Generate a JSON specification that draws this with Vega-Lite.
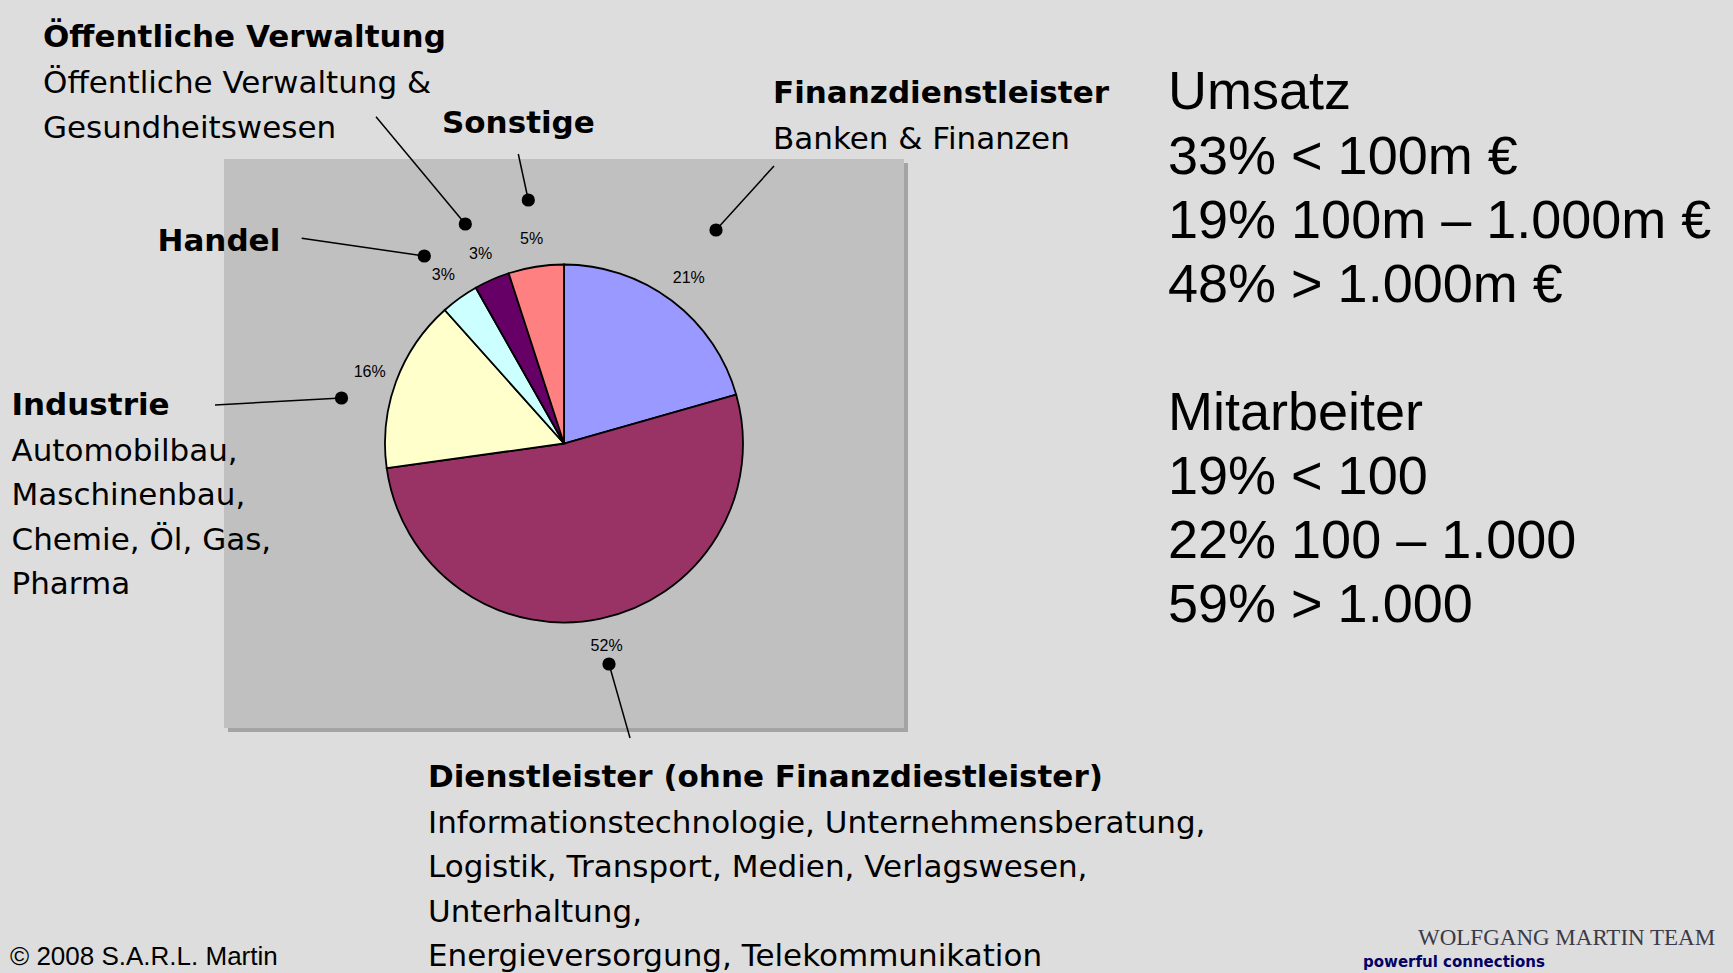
{
  "$schema": "https://vega.github.io/schema/vega-lite/v6.json",
  "width": 680,
  "height": 569,
  "autosize": {"type": "none"},
  "padding": {"left": 224, "top": 159, "right": 829, "bottom": 245},
  "background": "#DDDDDD",
  "config": {"view": {"fill": null, "stroke": null}},
  "params": [
    {
      "name": "L",
      "value": {
        "fin": {"dx": 492, "dy": 71, "ex": 550, "ey": 7, "tx": 549, "ty": -55.7, "sy": -9.7},
        "dienst": {"dx": 385, "dy": 505, "ex": 406, "ey": 579, "tx": 204, "ty": 627.7, "sy": 673.7},
        "ind": {"dx": 117.5, "dy": 239, "ex": -9, "ey": 246, "tx": -212.5, "ty": 256, "sy": 301.7},
        "han": {"dx": 200.3, "dy": 97, "ex": 77.7, "ey": 79.3, "tx": -66.5, "ty": 91.7, "sy": 0},
        "oev": {"dx": 241.3, "dy": 65, "ex": 152, "ey": -42.3, "tx": -181, "ty": -112.3, "sy": -65.7},
        "son": {"dx": 304.3, "dy": 41, "ex": 294.3, "ey": -5, "tx": 218, "ty": -25.7, "sy": 0}
      }
    }
  ],
  "datasets": {
    "sectors": [
      {"order": 1, "k": "fin", "sector": "Finanzdienstleister", "share": 0.206, "title": "Finanzdienstleister", "desc": ["Banken & Finanzen"]},
      {"order": 2, "k": "dienst", "sector": "Dienstleister", "share": 0.522, "title": "Dienstleister (ohne Finanzdiestleister)", "desc": ["Informationstechnologie, Unternehmensberatung,", "Logistik, Transport, Medien, Verlagswesen,", "Unterhaltung,", "Energieversorgung, Telekommunikation"]},
      {"order": 3, "k": "ind", "sector": "Industrie", "share": 0.156, "title": "Industrie", "desc": ["Automobilbau,", "Maschinenbau,", "Chemie, Öl, Gas,", "Pharma"]},
      {"order": 4, "k": "han", "sector": "Handel", "share": 0.034, "title": "Handel", "desc": null},
      {"order": 5, "k": "oev", "sector": "Öffentliche Verwaltung", "share": 0.032, "title": "Öffentliche Verwaltung", "desc": ["Öffentliche Verwaltung &", "Gesundheitswesen"]},
      {"order": 6, "k": "son", "sector": "Sonstige", "share": 0.05, "title": "Sonstige", "desc": null}
    ],
    "side": [
      {"i": 1, "t": "Umsatz"},
      {"i": 2, "t": "33% < 100m €"},
      {"i": 3, "t": "19% 100m – 1.000m €"},
      {"i": 4, "t": "48% > 1.000m €"},
      {"i": 6, "t": "Mitarbeiter"},
      {"i": 7, "t": "19% < 100"},
      {"i": 8, "t": "22% 100 – 1.000"},
      {"i": 9, "t": "59% > 1.000"}
    ]
  },
  "layer": [
    {
      "data": {"values": [{"part": "shadow"}]},
      "mark": {"type": "rect", "fill": "#A4A4A4"},
      "encoding": {
        "x": {"value": 4},
        "x2": {"value": {"expr": "width + 4"}},
        "y": {"value": 4},
        "y2": {"value": {"expr": "height + 4"}}
      }
    },
    {
      "data": {"values": [{"part": "plot area"}]},
      "mark": {"type": "rect", "fill": "#C0C0C0"},
      "encoding": {
        "x": {"value": 0},
        "x2": {"value": {"expr": "width"}},
        "y": {"value": 0},
        "y2": {"value": {"expr": "height"}}
      }
    },
    {
      "data": {"name": "sectors"},
      "mark": {"type": "arc", "outerRadius": 179, "stroke": "black", "strokeWidth": 1.8},
      "encoding": {
        "theta": {"field": "share", "type": "quantitative", "stack": true},
        "order": {"field": "order", "type": "quantitative"},
        "color": {
          "field": "sector",
          "type": "nominal",
          "legend": null,
          "scale": {
            "domain": ["Finanzdienstleister", "Dienstleister", "Industrie", "Handel", "Öffentliche Verwaltung", "Sonstige"],
            "range": ["#9999FF", "#993366", "#FFFFCC", "#CCFFFF", "#660066", "#FF8080"]
          }
        }
      }
    },
    {
      "data": {"name": "sectors"},
      "mark": {"type": "text", "radius": 207, "font": "Liberation Sans", "fontSize": 16, "color": "black"},
      "encoding": {
        "theta": {"field": "share", "type": "quantitative", "stack": true},
        "order": {"field": "order", "type": "quantitative"},
        "text": {"field": "share", "type": "quantitative", "format": ".0%"}
      }
    },
    {
      "data": {"name": "sectors"},
      "mark": {"type": "rule", "color": "black", "strokeWidth": 1.5},
      "encoding": {
        "x": {"value": {"expr": "L[datum.k].dx"}},
        "y": {"value": {"expr": "L[datum.k].dy"}},
        "x2": {"value": {"expr": "L[datum.k].ex"}},
        "y2": {"value": {"expr": "L[datum.k].ey"}}
      }
    },
    {
      "data": {"name": "sectors"},
      "mark": {"type": "point", "filled": true, "color": "black", "opacity": 1, "size": 175},
      "encoding": {
        "x": {"value": {"expr": "L[datum.k].dx"}},
        "y": {"value": {"expr": "L[datum.k].dy"}}
      }
    },
    {
      "data": {"name": "sectors"},
      "mark": {"type": "text", "align": "left", "baseline": "alphabetic", "font": "DejaVu Sans", "fontWeight": "bold", "fontSize": 31, "color": "black"},
      "encoding": {
        "x": {"value": {"expr": "L[datum.k].tx"}},
        "y": {"value": {"expr": "L[datum.k].ty"}},
        "text": {"field": "title", "type": "nominal"}
      }
    },
    {
      "data": {"name": "sectors"},
      "transform": [{"filter": "isValid(datum.desc)"}],
      "mark": {"type": "text", "align": "left", "baseline": "alphabetic", "font": "DejaVu Sans", "fontSize": 31, "lineHeight": 44.5, "color": "black"},
      "encoding": {
        "x": {"value": {"expr": "L[datum.k].tx"}},
        "y": {"value": {"expr": "L[datum.k].sy"}},
        "text": {"field": "desc", "type": "nominal"}
      }
    },
    {
      "data": {"name": "side"},
      "mark": {"type": "text", "align": "left", "baseline": "alphabetic", "font": "Liberation Sans", "fontSize": 54, "color": "black"},
      "encoding": {
        "x": {"value": 944},
        "y": {
          "field": "i",
          "type": "ordinal",
          "axis": null,
          "scale": {"type": "point", "domain": [1, 2, 3, 4, 5, 6, 7, 8, 9], "range": [-49.6, 463.2], "padding": 0}
        },
        "text": {"field": "t", "type": "nominal"}
      }
    },
    {
      "data": {"values": [{"t": "© 2008 S.A.R.L. Martin"}]},
      "mark": {"type": "text", "align": "left", "baseline": "alphabetic", "font": "Liberation Sans", "fontSize": 26, "color": "black"},
      "encoding": {"x": {"value": -214}, "y": {"value": 806}, "text": {"field": "t", "type": "nominal"}}
    },
    {
      "data": {"values": [{"t": "WOLFGANG MARTIN TEAM"}]},
      "mark": {"type": "text", "align": "left", "baseline": "alphabetic", "font": "Liberation Serif", "fontSize": 23, "color": "#3A3A48"},
      "encoding": {"x": {"value": 1194}, "y": {"value": 786}, "text": {"field": "t", "type": "nominal"}}
    },
    {
      "data": {"values": [{"t": "powerful connections"}]},
      "mark": {"type": "text", "align": "left", "baseline": "alphabetic", "font": "DejaVu Sans", "fontWeight": "bold", "fontSize": 15, "letterSpacing": 2.4, "color": "#000066"},
      "encoding": {"x": {"value": 1139}, "y": {"value": 808}, "text": {"field": "t", "type": "nominal"}}
    }
  ]
}
